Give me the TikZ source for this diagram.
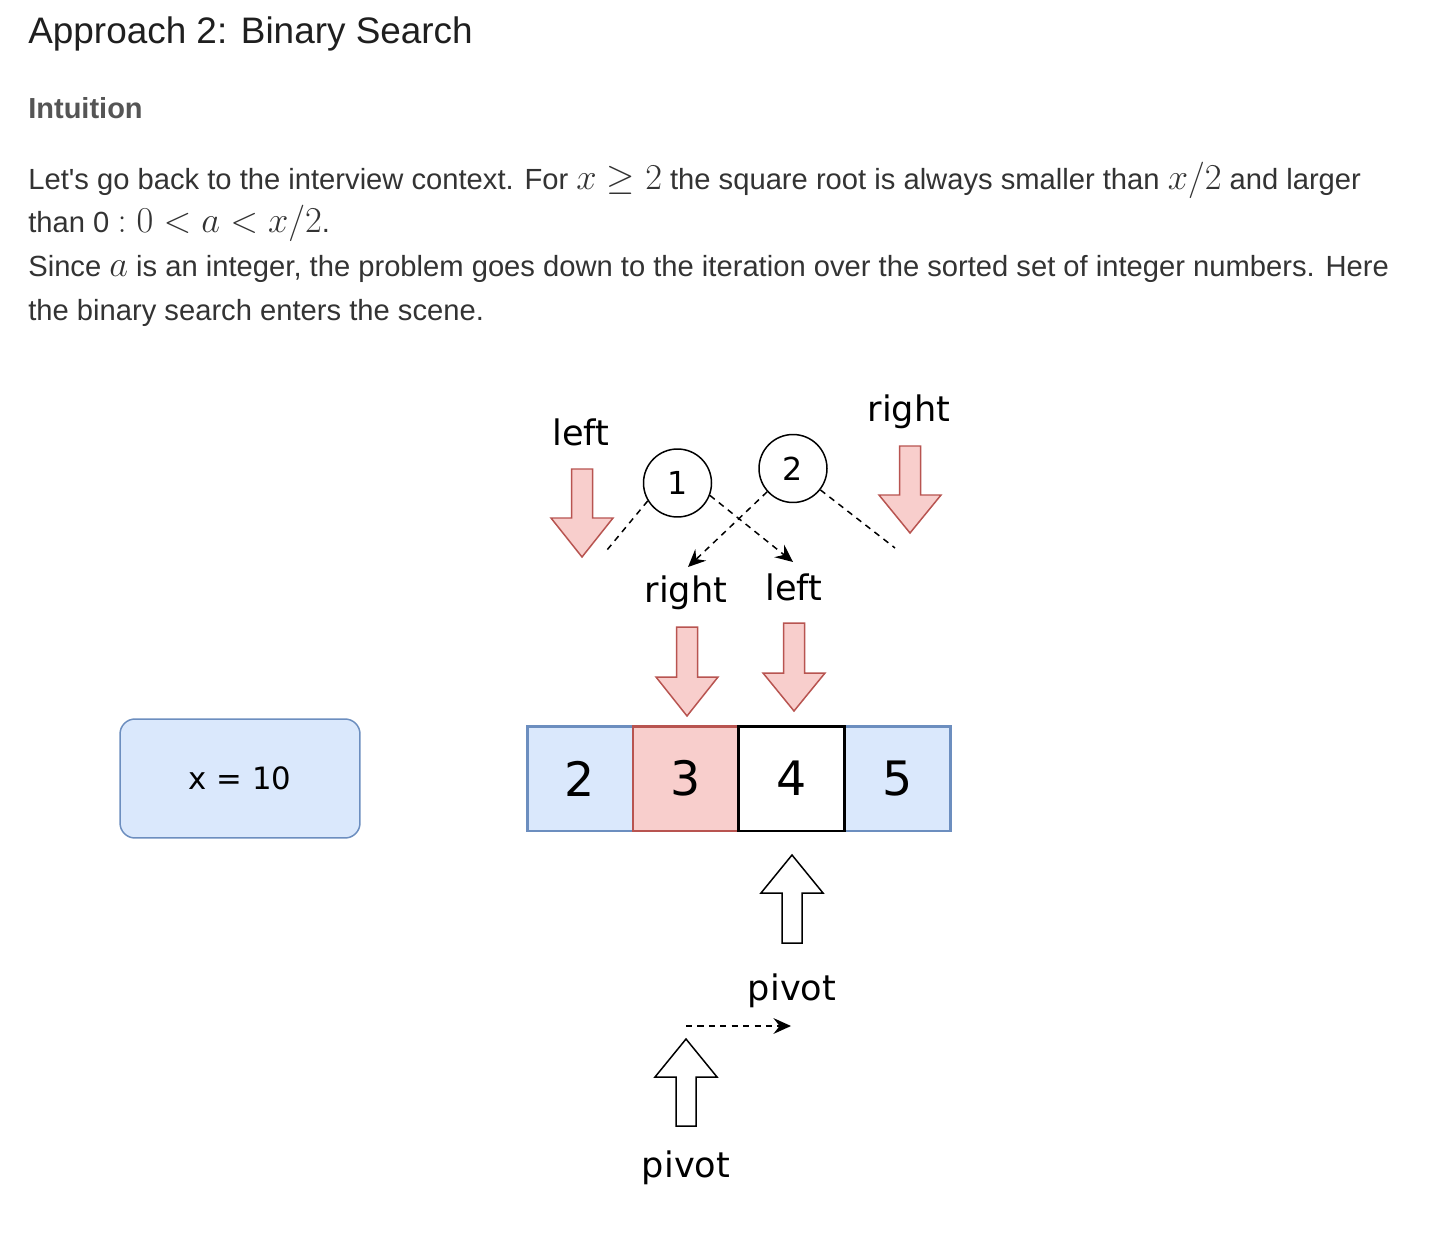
\documentclass[tikz,border=0pt]{standalone}
\usepackage{fontspec}
\setmainfont{Liberation Sans}
\newfontfamily\sketchfont{DejaVu Sans}
\usetikzlibrary{arrows.meta,positioning}

\definecolor{blueFill}{HTML}{DAE8FC}
\definecolor{blueLine}{HTML}{6C8EBF}
\definecolor{redFill}{HTML}{F8CECC}
\definecolor{redLine}{HTML}{B85450}
\definecolor{bodyText}{HTML}{333333}
\definecolor{headText}{HTML}{1F1F1F}
\definecolor{subText}{HTML}{555555}

\newcommand{\km}[1]{{\fontsize{19.2pt}{20pt}\selectfont$#1$}}

\tikzset{
  bodyline/.style={anchor=base west, inner sep=0pt, text=bodyText, font=\fontsize{16.6pt}{18pt}\selectfont},
  cell/.style={draw, line width=1.7pt, outer sep=0pt, minimum width=2.12cm, minimum height=2.1cm, font=\sketchfont\fontsize{27pt}{30pt}\selectfont},
  ring/.style={circle, draw, line width=0.85pt, minimum size=1.36cm, inner sep=0pt, font=\sketchfont\fontsize{18pt}{20pt}\selectfont},
  tag/.style={anchor=base, inner sep=0pt, font=\sketchfont\fontsize{20pt}{22pt}\selectfont},
  downblock/.style={draw=redLine, fill=redFill, line width=0.85pt},
  upblock/.style={draw=black, fill=white, line width=0.85pt},
  link/.style={dash pattern=on 3.5pt off 3pt, line width=0.85pt},
  tip/.style={-{Stealth[length=10pt,width=9pt,inset=3.5pt]}}
}

\begin{document}
\begin{tikzpicture}[x=0.02cm, y=-0.02cm]
\fill[white] (0,0) rectangle (1432,1246);
\useasboundingbox (0,0) rectangle (1432,1246);

% heading and text
\node[anchor=base west, inner sep=0pt, text=headText, font=\fontsize{21pt}{24pt}\selectfont] (title) at (28,44) {Approach 2: Binary Search};
\node[anchor=base west, inner sep=0pt, text=subText, font=\bfseries\fontsize{16.5pt}{18pt}\selectfont] (intuition) at (28,119) {Intuition};
\node[bodyline] (line1) at (28,190) {Let\textquotesingle s go back to the interview context. For \km{x \geq 2} the square root is always smaller than \km{x/2} and larger};
\node[bodyline] (line2) at (28,233) {than 0 \km{: 0 < a < x/2}.};
\node[bodyline] (line3) at (28,277) {Since \km{a} is an integer, the problem goes down to the iteration over the sorted set of integer numbers. Here};
\node[bodyline] (line4) at (28,321) {the binary search enters the scene.};

% x = 10
\node[draw=blueLine, fill=blueFill, line width=0.85pt, rounded corners=0.3cm, minimum width=4.8cm, minimum height=2.38cm, font=\sketchfont\fontsize{17.5pt}{20pt}\selectfont] (xval) at (240,778.5) {x = 10};

% array
\node[cell, draw=blueLine, fill=blueFill] (c2) at (580,778.5) {2};
\node[cell, draw=redLine, fill=redFill, right=0pt of c2] (c3) {3};
\node[cell, draw=blueLine, fill=blueFill, right=2.12cm of c3] (c5) {5};
\node[cell, draw=black, fill=white, right=0pt of c3] (c4) {4};

% down arrows (x / top / head / tip)
\foreach \ax/\at/\ab/\ap in {582/469/518/557, 910/446/495/533, 687/627/677/716, 794/623/673/711}
  \draw[downblock] (\ax-10.5,\at) -- (\ax+10.5,\at) -- (\ax+10.5,\ab) -- (\ax+31,\ab) -- (\ax,\ap) -- (\ax-31,\ab) -- (\ax-10.5,\ab) -- cycle;

% up arrows (x / tip / head / bottom)
\foreach \ux/\up/\uh/\ub in {792/855/893/943, 686/1039/1077/1126}
  \draw[upblock] (\ux,\up) -- (\ux+31,\uh) -- (\ux+10,\uh) -- (\ux+10,\ub) -- (\ux-10,\ub) -- (\ux-10,\uh) -- (\ux-31,\uh) -- cycle;

% labels
\node[tag] (leftA) at (581,445) {left};
\node[tag] (rightA) at (909,421) {right};
\node[tag] (rightB) at (686,602) {right};
\node[tag] (leftB) at (794,600) {left};
\node[tag] (pivotA) at (792,1000) {pivot};
\node[tag] (pivotB) at (686,1177) {pivot};

% steps
\node[ring] (n1) at (677.5,483) {1};
\node[ring] (n2) at (793,468.5) {2};
\coordinate (d1) at (607,550);
\coordinate (d2) at (793,562);
\coordinate (d3) at (688,567);
\coordinate (d4) at (895,548);
\draw[link] (n1.211) -- (d1);
\draw[link, tip] (n1.339) -- (d2);
\draw[link, tip] (n2.222) -- (d3);
\draw[link] (n2.322) -- (d4);

\coordinate (p1) at (686,1026);
\coordinate (p2) at (791,1026);
\draw[link, tip] (p1) -- (p2);
\end{tikzpicture}
\end{document}
